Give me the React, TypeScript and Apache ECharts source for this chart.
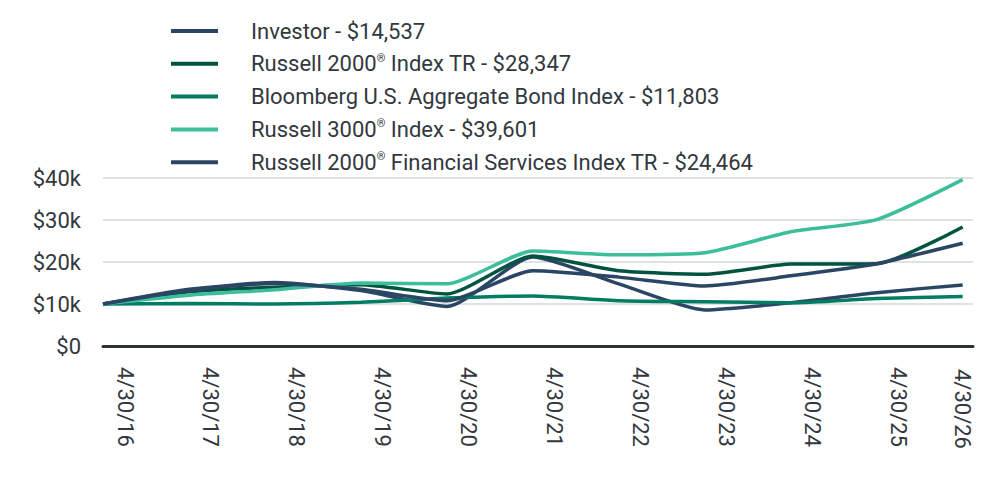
import React, { useEffect, useRef } from "react";
import * as echarts from "echarts";

const categories = ["4/30/16", "4/30/17", "4/30/18", "4/30/19", "4/30/20", "4/30/21", "4/30/22", "4/30/23", "4/30/24", "4/30/25", "4/30/26"];
const seriesNames = [
  "Investor - $14,537",
  "Russell 2000® Index TR - $28,347",
  "Bloomberg U.S. Aggregate Bond Index - $11,803",
  "Russell 3000® Index - $39,601",
  "Russell 2000® Financial Services Index TR - $24,464",
];
const investor = [10000, 13500, 15100, 13200, 9400, 21200, 14800, 8600, 10300, 12700, 14537];
const russell2000 = [10000, 12900, 14000, 14600, 12400, 21400, 17900, 17100, 19500, 19600, 28347];
const bloomberg = [10000, 10100, 10000, 10400, 11400, 11900, 10800, 10550, 10300, 11300, 11803];
const russell3000 = [10000, 12100, 13400, 15000, 14800, 22600, 21700, 22200, 27200, 30100, 39601];
const russell2000Fin = [10000, 13300, 14900, 13500, 10800, 17900, 16400, 14300, 16700, 19600, 24464];
const yTicks = [0, 10000, 20000, 30000, 40000];
const colors = ["#2b4665", "#02533f", "#037d61", "#3cbd9b", "#2b4665"];

const FONT = "Roboto";
const TEXT = "#32383e";

export default function App() {
  const ref = useRef<HTMLDivElement>(null);
  useEffect(() => {
    if (!ref.current) return;
    const chart = echarts.init(ref.current, undefined, { renderer: "svg" });
    const all = [investor, russell2000, bloomberg, russell3000, russell2000Fin];
    const last = categories.length - 1;
    chart.setOption({
      animation: false,
      legend: {
        orient: "vertical",
        left: 171,
        top: 20,
        padding: 0,
        itemWidth: 47,
        itemHeight: 4,
        itemGap: 10.8,
        icon: "rect",
        data: seriesNames,
        formatter: (name: string) => name.replace(/®/g, "{sup|®}"),
        textStyle: {
          fontFamily: FONT,
          fontSize: 22,
          lineHeight: 22,
          color: TEXT,
          padding: [0, 0, 0, 28],
          rich: {
            sup: { fontFamily: FONT, fontSize: 11, lineHeight: 11, color: TEXT, verticalAlign: "top" },
          },
        },
      },
      grid: { left: 103, right: 11, top: 178, bottom: 134, containLabel: false },
      xAxis: {
        type: "value",
        min: 0,
        max: 10.12,
        interval: 1,
        axisLine: { show: true, onZero: true, lineStyle: { color: "#2c3338", width: 3 } },
        axisTick: { show: false },
        splitLine: { show: false },
        axisLabel: {
          rotate: -90,
          margin: 21,
          showMinLabel: true,
          showMaxLabel: true,
          fontFamily: FONT,
          fontSize: 22,
          color: TEXT,
          formatter: (v: number) => {
            const i = Math.round(v);
            if (Math.abs(v - i) > 1e-6 || i < 0 || i > last) return "";
            return i === last ? `{b|${categories[i]}}` : `{a|${categories[i]}}`;
          },
          rich: {
            a: { fontFamily: FONT, fontSize: 22, color: TEXT, padding: [0, 0, 44, 0] },
            b: { fontFamily: FONT, fontSize: 22, color: TEXT, padding: [0, 0, 0, 2] },
          },
        },
      },
      yAxis: {
        type: "value",
        min: yTicks[0],
        max: yTicks[yTicks.length - 1],
        interval: 10000,
        axisLine: { show: false },
        axisTick: { show: false },
        splitLine: { show: true, lineStyle: { color: "#dde2e2", width: 2 } },
        axisLabel: {
          margin: 22,
          fontFamily: FONT,
          fontSize: 22,
          color: TEXT,
          formatter: (v: number) => (v === 0 ? "$0" : "$" + v / 1000 + "k"),
        },
      },
      series: seriesNames.map((name, s) => ({
        name,
        type: "line",
        smooth: 0.2,
        showSymbol: false,
        symbol: "none",
        color: colors[s],
        lineStyle: { color: colors[s], width: 3.5 },
        data: all[s].map((v, i) => [i, v]),
      })),
    });
    return () => chart.dispose();
  }, []);
  return <div ref={ref} style={{ width: 984, height: 480, position: "absolute", left: 0, top: 0 }} />;
}
